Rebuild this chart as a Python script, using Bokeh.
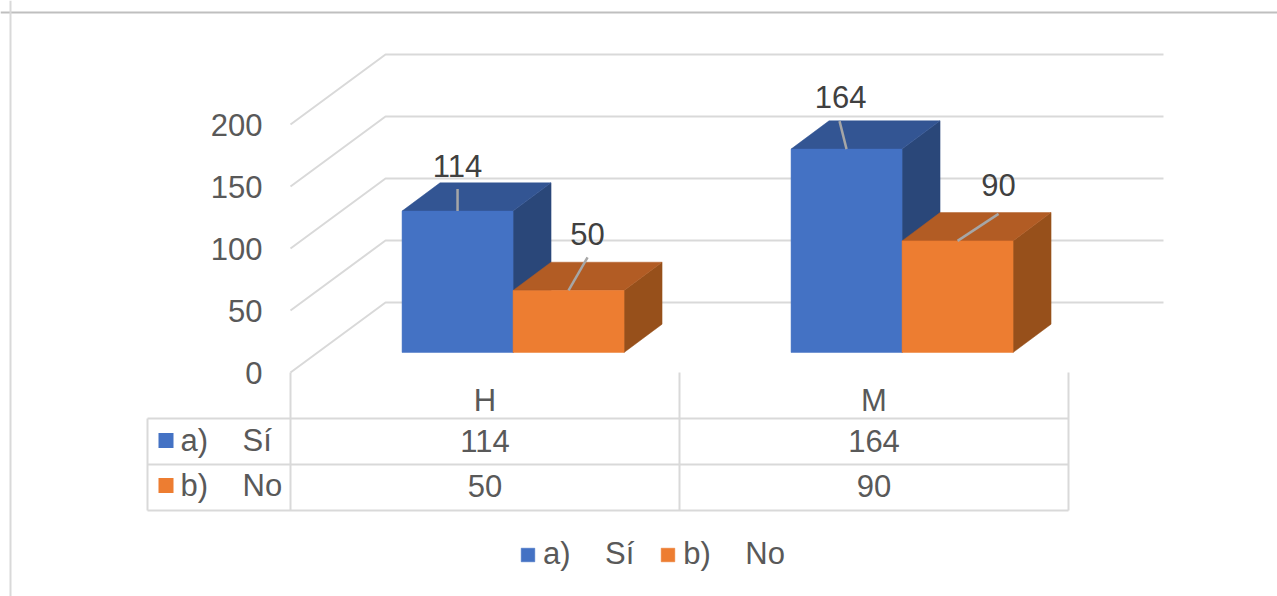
from bokeh.plotting import figure
from bokeh.embed import file_html
from bokeh.resources import INLINE
from bokeh.core.properties import value
from bokeh.models import Legend, LegendItem, Span

categories = ["H", "M"]
series_names = ["a)    Sí", "b)    No"]
si_values = [114, 164]
no_values = [50, 90]
y_ticks = [0, 50, 100, 150, 200]

FONT = value("Liberation Sans")
SIZE = "31px"
BLUE, BLUE_TOP, BLUE_SIDE = "#4472C4", "#335593", "#2A4779"
ORANGE, ORANGE_TOP, ORANGE_SIDE = "#ED7D31", "#B25C24", "#97501B"
GRID = "#D9D9D9"

# Scale of the chart: pixels per category and per value unit
CAT_PX, UNIT_PX = 389.0, 1.24
ORIGIN_X, ORIGIN_Y = 290.0, 372.0   # page pixel of category 0 / value 0
W, H = 1277, 596
def px_x(d): return d / CAT_PX
def px_y(d): return d / UNIT_PX
def page_x(x): return (x - ORIGIN_X) / CAT_PX
def page_y(y): return (ORIGIN_Y - y) / UNIT_PX

p = figure(width=W, height=H, output_backend="svg", toolbar_location=None,
           x_range=(page_x(0), page_x(W)), y_range=(page_y(H), page_y(0)),
           min_border=0, outline_line_color=None, background_fill_color="white")
p.axis.visible = False
p.grid.visible = False

# Outer frame of the picture
p.add_layout(Span(location=page_y(12), dimension="width", line_color="#BFBFBF", line_width=2))
p.add_layout(Span(location=page_x(10), dimension="height", line_color="#D9D9D9", line_width=2))

# Walls: depth offset from the front of the chart to the back wall
WALL_DX, WALL_DY = px_x(95), px_y(70)
n = len(categories)
xs, ys = [], []
for t in y_ticks:
    xs.append([0, WALL_DX, n + WALL_DX])
    ys.append([t, t + WALL_DY, t + WALL_DY])
p.multi_line(xs, ys, line_color=GRID, line_width=2)

# Bars
BAR_W = px_x(111)
FRONT_T, BACK_T = 0.29, 0.69     # depth fractions of the bar front and back faces
def bar(cat_i, slot, v, front, top, side):
    fx = FRONT_T * WALL_DX; fy = 0.286 * WALL_DY
    ddx = (BACK_T - FRONT_T) * WALL_DX; ddy = (BACK_T - 0.286) * WALL_DY
    x0 = cat_i + 0.5 + fx + (slot - 1) * BAR_W + px_x(0.5)
    x1 = x0 + BAR_W
    y0 = fy; y1 = fy + v
    p.patch([x1, x1 + ddx, x1 + ddx, x1], [y0, y0 + ddy, y1 + ddy, y1], fill_color=side, line_color=side, line_width=0.5)
    p.patch([x0, x0 + ddx, x1 + ddx, x1], [y1, y1 + ddy, y1 + ddy, y1], fill_color=top, line_color=top, line_width=0.5)
    return p.quad(left=[x0], right=[x1], bottom=[y0], top=[y1], fill_color=front, line_color=front, line_width=0.5), (x0 + x1) / 2, y1

# Leader line end and label centre, in pixels from the middle of the bar's top edge
offsets = {(0, 0): (0, 22, 0, 45), (1, 0): (19, 33, 19, 56), (0, 1): (-7, 28, -6, 52), (1, 1): (41, 27, 41, 56)}
renderers = {}
lead_x, lead_y, lab_x, lab_y, lab_t = [], [], [], [], []
for i in range(n):
    for slot, (vals, cols) in enumerate([(si_values, (BLUE, BLUE_TOP, BLUE_SIDE)), (no_values, (ORANGE, ORANGE_TOP, ORANGE_SIDE))]):
        r, mx, ty = bar(i, slot, vals[i], *cols)
        renderers[slot] = r
        ex, ey, tx, tyo = offsets[(slot, i)]
        lead_x.append([mx, mx + px_x(ex)]); lead_y.append([ty, ty + px_y(ey)])
        lab_x.append(mx + px_x(tx)); lab_y.append(ty + px_y(tyo)); lab_t.append(str(vals[i]))
p.multi_line(lead_x, lead_y, line_color="#A6A6A6", line_width=2.5)
p.text(lab_x, lab_y, text=lab_t, text_font=FONT, text_font_size=SIZE, text_color="#404040",
       text_align="center", text_baseline="middle")

# Value axis labels
p.text([page_x(262)] * len(y_ticks), y_ticks, text=[str(t) for t in y_ticks], text_font=FONT, text_font_size=SIZE,
       text_color="#595959", text_align="right", text_baseline="middle")

# Data table
TL, TR = page_x(147), float(n)
R0, R1, R2, TOPY = page_y(418), page_y(464), page_y(510), 0
p.multi_line([[TL, TR], [TL, TR], [TL, TR]], [[R0, R0], [R1, R1], [R2, R2]], line_color=GRID, line_width=2)
vx = [[TL, TL]] + [[c, c] for c in range(n + 1)]
vy = [[R0, R2]] + [[TOPY, R2]] * (n + 1)
p.multi_line(vx, vy, line_color=GRID, line_width=2)

centers = [i + 0.5 for i in range(n)]
p.text(centers, [page_y(400)] * n, text=categories, text_font=FONT, text_font_size=SIZE, text_color="#595959",
       text_align="center", text_baseline="middle")
for vals, y in ((si_values, page_y(440)), (no_values, page_y(485))):
    p.text(centers, [y] * n, text=[str(v) for v in vals], text_font=FONT, text_font_size=SIZE, text_color="#595959",
           text_align="center", text_baseline="middle")

row_y = [page_y(440), page_y(485)]
p.scatter([page_x(165.5)] * 2, row_y, marker="square", size=15, fill_color=[BLUE, ORANGE], line_color=None)
p.text([page_x(180)] * 2, row_y, text=[s.replace(" ", "\u00a0") for s in series_names], text_font=FONT,
       text_font_size=SIZE, text_color="#595959", text_align="left", text_baseline="middle")

legend = Legend(items=[LegendItem(label=series_names[0], renderers=[renderers[0]]),
                       LegendItem(label=series_names[1], renderers=[renderers[1]])],
                orientation="horizontal", location=(519, 24), margin=0, padding=0,
                background_fill_alpha=0, border_line_alpha=0,
                glyph_width=17, glyph_height=17, label_standoff=7, spacing=25,
                label_text_font="Liberation Sans", label_text_font_size=SIZE, label_text_color="#595959")
p.add_layout(legend, "center")

open("out.html", "w").write(file_html(p, INLINE))
